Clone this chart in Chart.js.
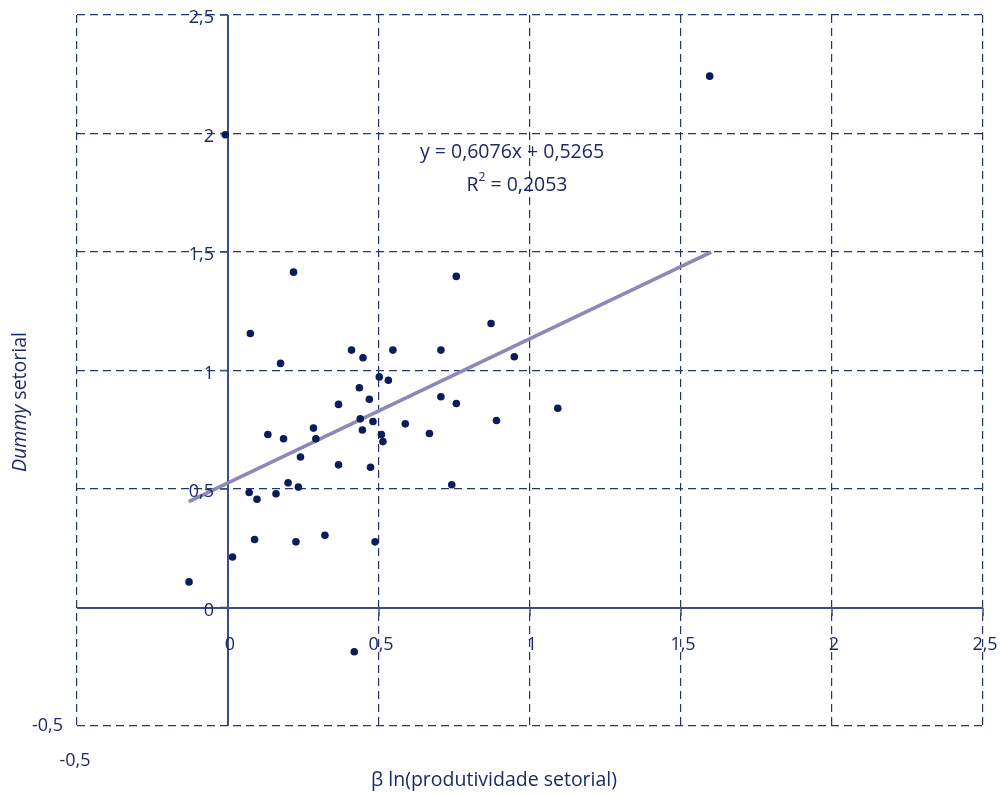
<!DOCTYPE html>
<html>
<head>
<meta charset="utf-8">
<script src="https://cdn.jsdelivr.net/npm/chart.js@4.4.0/dist/chart.umd.min.js"></script>
<style>
  html, body { margin: 0; padding: 0; background: #fff; }
</style>
</head>
<body>
<canvas id="chart" width="1000" height="795"></canvas>
<script>
// values
const xValues = [-0.129, -0.009, 0.015, 0.070, 0.074, 0.088, 0.096, 0.132, 0.159, 0.174,
  0.184, 0.199, 0.217, 0.225, 0.233, 0.240, 0.283, 0.291, 0.321, 0.366,
  0.366, 0.409, 0.418, 0.435, 0.438, 0.445, 0.447, 0.468, 0.472, 0.480,
  0.487, 0.501, 0.508, 0.513, 0.531, 0.546, 0.587, 0.667, 0.705, 0.705,
  0.741, 0.756, 0.756, 0.871, 0.889, 0.948, 1.092, 1.595];
const yValues = [0.108, 1.995, 0.213, 0.485, 1.156, 0.287, 0.457, 0.730, 0.480, 1.030,
  0.712, 0.526, 1.415, 0.277, 0.508, 0.635, 0.757, 0.712, 0.305, 0.857,
  0.602, 1.086, -0.187, 0.927, 0.796, 0.749, 1.054, 0.879, 0.592, 0.785,
  0.277, 0.973, 0.730, 0.700, 0.959, 1.086, 0.775, 0.734, 1.086, 0.889,
  0.518, 1.397, 0.861, 1.198, 0.789, 1.058, 0.841, 2.242];
const trendX = [-0.13, 1.6];
const trendY = [0.447, 1.499];
const xTicks = [-0.5, 0, 0.5, 1, 1.5, 2, 2.5];
const yTicks = [-0.5, 0, 0.5, 1, 1.5, 2, 2.5];
const equationText = 'y = 0,6076x + 0,5265';
const r2Value = '0,2053';
const xTitle = 'β ln(produtividade setorial)';
const yTitleItalic = 'Dummy';
const yTitleRest = ' setorial';

const navy = '#1a2a68';
const dotColor = '#0a1c5a';
const gridColor = '#243470';
const axisColor = '#3d4d8a';
const trendColor = '#8a89ba';
const fontFamily = '"Open Sans", "Noto Sans", sans-serif';

function fmt(v){
  return String(v).replace('.', ',');
}

const textPlugin = {
  id: 'textPlugin',
  beforeDatasetsDraw(chart){
    const {ctx, chartArea: a} = chart;
    const x = chart.scales.x, y = chart.scales.y;
    const x0 = Math.round(x.getPixelForValue(0));
    const y0 = Math.round(y.getPixelForValue(0));
    ctx.save();
    ctx.setLineDash([]);
    ctx.strokeStyle = axisColor;
    ctx.lineWidth = 2;
    ctx.beginPath();
    ctx.moveTo(x0, a.top); ctx.lineTo(x0, a.bottom);
    ctx.moveTo(a.left, y0); ctx.lineTo(a.right, y0);
    ctx.stroke();
    ctx.lineWidth = 1.5;
    ctx.beginPath();
    yTicks.forEach((v) => {
      if (v > -0.5){
        const p = y.getPixelForValue(v);
        ctx.moveTo(x0 - 8, p); ctx.lineTo(x0, p);
      }
    });
    xTicks.forEach((v) => {
      if (v > -0.5){
        const p = x.getPixelForValue(v);
        ctx.moveTo(p, y0); ctx.lineTo(p, y0 + 8);
      }
    });
    ctx.stroke();
    ctx.restore();
  },
  afterDraw(chart){
    const {ctx, chartArea: a} = chart;
    const x = chart.scales.x, y = chart.scales.y;
    const x0 = x.getPixelForValue(0);
    const y0 = y.getPixelForValue(0);
    ctx.save();
    ctx.fillStyle = navy;
    ctx.font = '18px ' + fontFamily;
    ctx.textBaseline = 'middle';

    // y tick labels next to the x=0 axis
    ctx.textAlign = 'right';
    yTicks.forEach((v) => {
      const p = y.getPixelForValue(v);
      if (v == -0.5){
        ctx.fillText(fmt(v), a.left - 14, p);
      } else {
        ctx.fillText(fmt(v), x0 - 14, p + 3);
      }
    });

    // x tick labels under the y=0 axis
    ctx.textAlign = 'center';
    xTicks.forEach((v) => {
      const p = x.getPixelForValue(v);
      if (v == -0.5){
        ctx.fillText(fmt(v), p - 2, a.bottom + 35);
      } else {
        ctx.fillText(fmt(v), p + 2, y0 + 37);
      }
    });

    // regression text
    const big = '19.5px ' + fontFamily, small = '12px ' + fontFamily;
    ctx.font = big;
    ctx.fillText(equationText, 512, 152);
    const rPart = 'R', supPart = '2', rest = ' = ' + r2Value;
    const wR = ctx.measureText(rPart).width;
    const wRest = ctx.measureText(rest).width;
    ctx.font = small;
    const wSup = ctx.measureText(supPart).width;
    let sx = 517 - (wR + wSup + wRest) / 2;
    ctx.textAlign = 'left';
    ctx.font = big;
    ctx.fillText(rPart, sx, 185);
    ctx.font = small;
    ctx.fillText(supPart, sx + wR, 178);
    ctx.font = big;
    ctx.fillText(rest, sx + wR + wSup, 185);

    // axis titles
    ctx.textAlign = 'center';
    ctx.font = big;
    ctx.fillText(xTitle, 494, 780);

    ctx.translate(20, 402);
    ctx.rotate(-Math.PI / 2);
    ctx.textAlign = 'left';
    ctx.font = 'italic ' + big;
    const wI = ctx.measureText(yTitleItalic).width;
    ctx.font = big;
    const wN = ctx.measureText(yTitleRest).width;
    const start = -(wI + wN) / 2;
    ctx.font = 'italic ' + big;
    ctx.fillText(yTitleItalic, start, 0);
    ctx.font = big;
    ctx.fillText(yTitleRest, start + wI, 0);
    ctx.restore();
  }
};

const points = xValues.map((v, i) => ({x: v, y: yValues[i]}));
const trend = trendX.map((v, i) => ({x: v, y: trendY[i]}));

new Chart(document.getElementById('chart'), {
  type: 'scatter',
  data: {
    datasets: [{
      label: 'Dummy setorial',
      data: points,
      backgroundColor: dotColor,
      borderColor: dotColor,
      pointRadius: 3.8,
      borderWidth: 0,
      order: 1
    }, {
      type: 'line',
      label: 'Linear',
      data: trend,
      borderColor: trendColor,
      borderWidth: 3.6,
      pointRadius: 0,
      fill: false,
      tension: 0,
      order: 2
    }]
  },
  options: {
    responsive: false,
    animation: false,
    layout: {padding: {left: 77, right: 17, top: 15, bottom: 69}},
    plugins: {legend: {display: false}, tooltip: {enabled: false}},
    scales: {
      x: {
        type: 'linear',
        min: -0.5, max: 2.5,
        afterBuildTicks: (s) => { s.ticks = xTicks.map((v) => ({value: v})); },
        ticks: {display: false},
        grid: {color: gridColor, lineWidth: 1.2, drawTicks: false},
        border: {display: false, dash: [8, 5]}
      },
      y: {
        type: 'linear',
        min: -0.5, max: 2.5,
        afterBuildTicks: (s) => { s.ticks = yTicks.map((v) => ({value: v})); },
        ticks: {display: false},
        grid: {color: gridColor, lineWidth: 1.2, drawTicks: false},
        border: {display: false, dash: [8, 5]}
      }
    }
  },
  plugins: [textPlugin]
});
</script>
</body>
</html>
